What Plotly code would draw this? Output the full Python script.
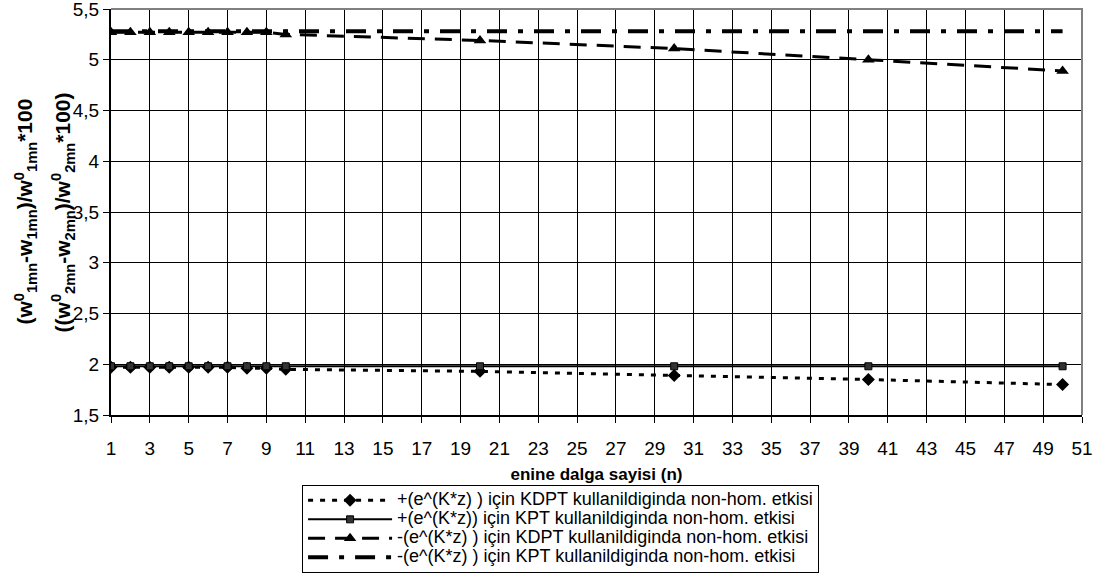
import plotly.graph_objects as go

# transverse wave number n
n_values = [1, 2, 3, 4, 5, 6, 7, 8, 9, 10, 20, 30, 40, 50]

# non-homogeneity effect (%) for each theory / profile sign
plus_kdpt = [1.97, 1.97, 1.97, 1.97, 1.97, 1.97, 1.97, 1.96, 1.96, 1.95, 1.93, 1.89, 1.85, 1.80]
plus_kpt = [1.98, 1.98, 1.98, 1.98, 1.98, 1.98, 1.98, 1.98, 1.98, 1.98, 1.98, 1.98, 1.98, 1.98]
minus_kdpt = [5.27, 5.27, 5.27, 5.27, 5.27, 5.27, 5.27, 5.27, 5.27, 5.25, 5.19, 5.11, 5.00, 4.89]
minus_kpt = [5.28, 5.28, 5.28, 5.28, 5.28, 5.28, 5.28, 5.28, 5.28, 5.28, 5.28, 5.28, 5.28, 5.28]

series_names = [
    "+(e^(K*z) ) için KDPT kullanildiginda non-hom. etkisi",
    "+(e^(K*z)) için KPT kullanildiginda non-hom. etkisi",
    "-(e^(K*z) ) için KDPT kullanildiginda non-hom. etkisi",
    "-(e^(K*z) ) için KPT kullanildiginda non-hom. etkisi",
]

x_tick_values = [1, 3, 5, 7, 9, 11, 13, 15, 17, 19, 21, 23, 25, 27, 29, 31,
                 33, 35, 37, 39, 41, 43, 45, 47, 49, 51]
x_tick_labels = [str(v) for v in x_tick_values]
y_tick_values = [1.5, 2, 2.5, 3, 3.5, 4, 4.5, 5, 5.5]
y_tick_labels = ["1,5", "2", "2,5", "3", "3,5", "4", "4,5", "5", "5,5"]

FONT = "Liberation Sans, Arial, sans-serif"
LEGEND_TEXT_SIZE = 18


def legend_label(text):
    return f'<span style="font-size:{LEGEND_TEXT_SIZE}px">{text}</span>'


fig = go.Figure()

fig.add_trace(go.Scatter(
    x=n_values, y=plus_kdpt, name=legend_label(series_names[0]),
    mode="lines+markers",
    line=dict(color="black", width=3, dash="5px,7px"),
    marker=dict(symbol="diamond", size=10, color="black"),
))
fig.add_trace(go.Scatter(
    x=n_values, y=plus_kpt, name=legend_label(series_names[1]),
    mode="lines+markers",
    line=dict(color="black", width=2),
    marker=dict(symbol="square", size=7, color="#333333",
                line=dict(color="black", width=1)),
))
fig.add_trace(go.Scatter(
    x=n_values, y=minus_kdpt, name=legend_label(series_names[2]),
    mode="lines+markers",
    line=dict(color="black", width=3, dash="17px,10px"),
    marker=dict(symbol="triangle-up", size=11, color="black"),
))
fig.add_trace(go.Scatter(
    x=n_values, y=minus_kpt, name=legend_label(series_names[3]),
    mode="lines",
    line=dict(color="black", width=4, dash="20px,11px,5px,11px"),
))

axis_common = dict(
    showline=True, linecolor="black", linewidth=2,
    showgrid=True, gridcolor="black", gridwidth=1,
    ticks="outside", ticklen=6, tickcolor="black", tickwidth=1,
    tickfont=dict(family=FONT, size=19, color="black"),
    ticklabeloverflow="allow",
    zeroline=False,
)

fig.update_xaxes(
    range=[1, 51], tickmode="array", tickvals=x_tick_values, ticktext=x_tick_labels,
    ticklabelstandoff=9,
    title=dict(text="<b>enine dalga sayisi (n)</b>",
               font=dict(family=FONT, size=17, color="black"), standoff=10),
    **axis_common,
)
fig.update_yaxes(
    range=[1.5, 5.5], tickmode="array", tickvals=y_tick_values, ticktext=y_tick_labels,
    **axis_common,
)

# two-line rotated y-axis caption
y_title_lines = [
    "<b>(w<sup>0</sup><sub>1mn</sub>-w<sub>1mn</sub>)/w<sup>0</sup><sub>1mn</sub>*100</b>",
    "<b>((w<sup>0</sup><sub>2mn</sub>-w<sub>2mn</sub>)/w<sup>0</sup><sub>2mn</sub>*100)</b>",
]
for xpos, line in zip([-0.089, -0.050], y_title_lines):
    fig.add_annotation(
        text=line, xref="paper", yref="paper", x=xpos, y=0.5,
        xanchor="center", yanchor="middle", textangle=-90, showarrow=False,
        font=dict(family=FONT, size=21, color="black"),
    )

# grey frame along the top and right of the plot area
fig.add_shape(type="path", xref="paper", yref="paper",
              path="M 0,1 L 1,1 L 1,0", line=dict(color="#808080", width=2),
              layer="above")

fig.update_layout(
    width=1101, height=576,
    margin=dict(l=111, r=19, t=9, b=161, autoexpand=False),
    paper_bgcolor="white", plot_bgcolor="white",
    font=dict(family=FONT, color="black"),
    showlegend=True,
    legend=dict(
        x=0.463, y=-0.172, xanchor="center", yanchor="top",
        bgcolor="white", bordercolor="black", borderwidth=1,
        font=dict(family=FONT, size=12, color="black"),
        itemwidth=84, tracegroupgap=0,
    ),
)

fig.write_html("out.html")
